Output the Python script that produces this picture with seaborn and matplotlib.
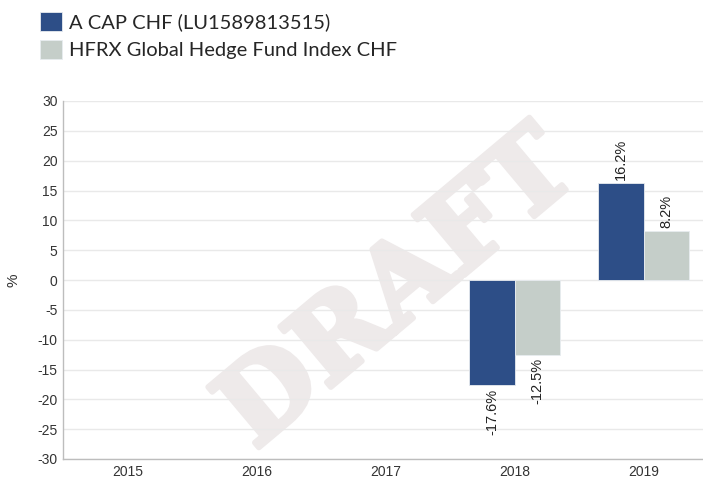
import pandas as pd
import matplotlib.pyplot as plt
import seaborn as sns
from matplotlib import patheffects

# Data
years = ['2015', '2016', '2017', '2018', '2019']
series = ['A CAP CHF (LU1589813515)', 'HFRX Global Hedge Fund Index CHF']
fund_years = ['2018', '2019']
fund_values = [-17.6, 16.2]
index_values = [-12.5, 8.2]
colors = ['#2d4e87', '#c5cec9']

df = pd.DataFrame({
    'year': fund_years + fund_years,
    'value': fund_values + index_values,
    'series': [series[0]] * 2 + [series[1]] * 2,
})

sns.set_style('white')
plt.rcParams['font.family'] = ['Liberation Sans', 'DejaVu Sans']
plt.rcParams['axes.unicode_minus'] = False

W, H = 703, 478
fig = plt.figure(figsize=(W / 100, H / 100), dpi=100)
ax = fig.add_axes([63 / W, 19 / H, 645 / W, 358 / H])

# watermark
wm = '#eeeaea'
fig.text(418 / W, 1 - 314 / H, 'DRAFT', fontsize=78, fontweight='bold',
         family='DejaVu Serif', color=wm, rotation=40,
         ha='center', va='baseline', rotation_mode='anchor', zorder=-1,
         path_effects=[patheffects.withStroke(linewidth=4, foreground=wm)])
ax.set_facecolor('none')

sns.barplot(data=df, x='year', y='value', hue='series', order=years,
            hue_order=series, palette=colors, saturation=1, width=0.7, ax=ax,
            edgecolor='#e8ecf0', linewidth=0.6, zorder=3)

for cont in ax.containers:
    ax.bar_label(cont, labels=[f'{v:.1f}%' for v in cont.datavalues],
                 rotation=90, padding=2.5, fontsize=10.5, color='#222222')

ax.set_ylim(-30, 30)
ax.set_yticks(range(-30, 31, 5))
ax.set_xlim(-0.5, 4.5)
ax.grid(axis='y', color='#e9e9e9', linewidth=1, zorder=0)
ax.set_axisbelow(True)
ax.tick_params(length=0, labelsize=10, labelcolor='#333333')
ax.tick_params(axis='x', pad=4)
ax.tick_params(axis='y', pad=4)
ax.set_xlabel('')
ax.set_ylabel('%', fontsize=11, color='#333333')
ax.yaxis.set_label_coords((20 - 63) / 645, 0.5)
for s in ['top', 'right']:
    ax.spines[s].set_visible(False)
for s in ['left', 'bottom']:
    ax.spines[s].set_color('#bdbdbd')
    ax.spines[s].set_linewidth(1)

sns.move_legend(ax, loc='upper left', bbox_to_anchor=(40 / W, 1 - 12 / H),
                bbox_transform=fig.transFigure, frameon=False, title=None,
                borderaxespad=0, borderpad=0, handlelength=1.08, handleheight=1.08,
                labelspacing=0.42, handletextpad=0.35,
                prop={'family': ['Lato', 'DejaVu Sans'], 'size': 14.5})

fig.savefig('out.png', dpi=100)
